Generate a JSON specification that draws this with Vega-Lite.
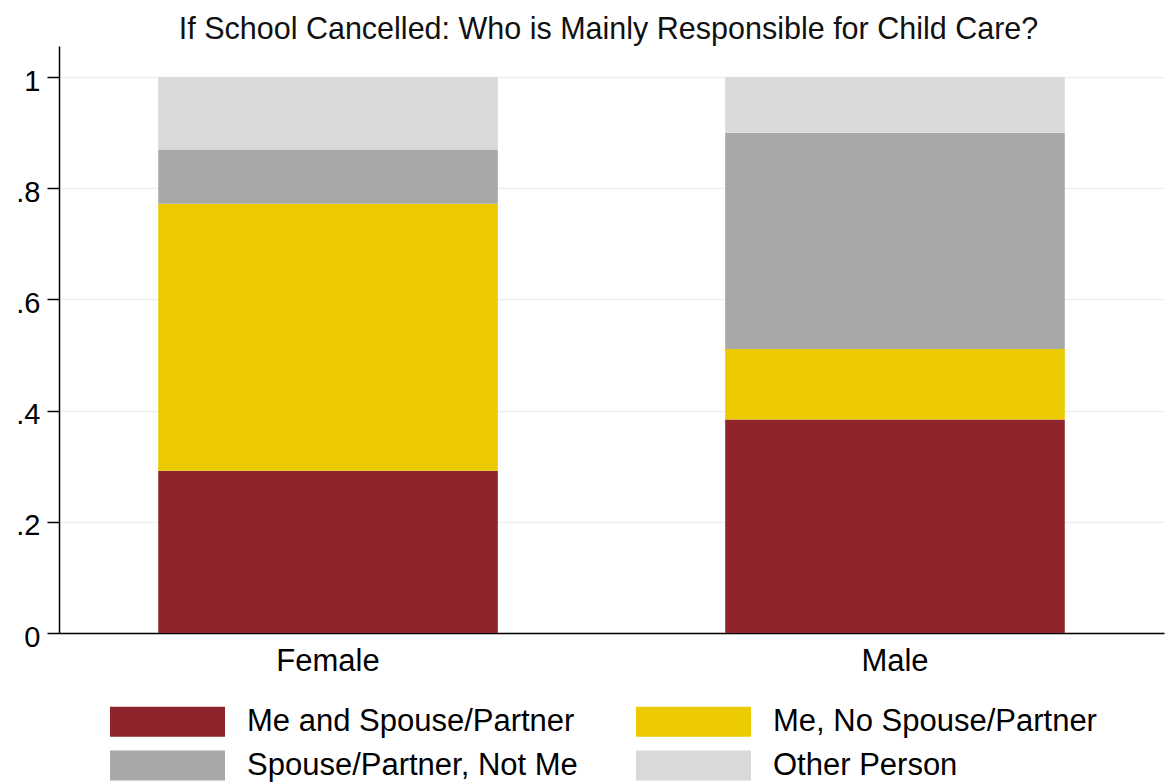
{
  "$schema": "https://vega.github.io/schema/vega-lite/v6.json",
  "width": 1105,
  "height": 587,
  "autosize": {"type": "none"},
  "padding": {"left": 59, "top": 46, "right": 2, "bottom": 151},
  "background": "white",
  "config": {"view": {"stroke": null}, "font": "Liberation Sans"},
  "title": {
    "text": "If School Cancelled: Who is Mainly Responsible for Child Care?",
    "fontSize": 30.5,
    "fontWeight": "normal",
    "font": "Liberation Sans",
    "color": "#111111",
    "anchor": "middle",
    "frame": "group",
    "baseline": "alphabetic",
    "offset": -23,
    "dx": -3
  },
  "data": {
    "values": [
      {"sex": "Female", "who": "Me and Spouse/Partner", "share": 0.292},
      {"sex": "Female", "who": "Me, No Spouse/Partner", "share": 0.480},
      {"sex": "Female", "who": "Spouse/Partner, Not Me", "share": 0.098},
      {"sex": "Female", "who": "Other Person", "share": 0.130},
      {"sex": "Male", "who": "Me and Spouse/Partner", "share": 0.384},
      {"sex": "Male", "who": "Me, No Spouse/Partner", "share": 0.127},
      {"sex": "Male", "who": "Spouse/Partner, Not Me", "share": 0.389},
      {"sex": "Male", "who": "Other Person", "share": 0.100}
    ]
  },
  "transform": [
    {"calculate": "indexof(['Me and Spouse/Partner', 'Me, No Spouse/Partner', 'Spouse/Partner, Not Me', 'Other Person'], datum.who)", "as": "stack_rank"}
  ],
  "mark": {"type": "bar", "strokeWidth": 0},
  "encoding": {
    "x": {
      "field": "sex",
      "type": "nominal",
      "sort": ["Female", "Male"],
      "scale": {"paddingInner": 0.401, "paddingOuter": 0.175},
      "axis": {
        "title": null,
        "ticks": false,
        "labelAngle": 0,
        "labelFontSize": 31,
        "labelFont": "Liberation Sans",
        "labelColor": "black",
        "labelPadding": 13,
        "domainColor": "black",
        "domainWidth": 1.5,
        "grid": false
      }
    },
    "y": {
      "field": "share",
      "type": "quantitative",
      "stack": "zero",
      "scale": {"domain": [0, 1.056], "nice": false},
      "axis": {
        "title": null,
        "values": [0, 0.2, 0.4, 0.6, 0.8, 1],
        "labelExpr": "datum.value == 0 ? '0' : datum.value == 1 ? '1' : '.' + round(datum.value * 10)",
        "tickSize": 12,
        "tickColor": "black",
        "tickWidth": 1.5,
        "domainColor": "black",
        "domainWidth": 1.5,
        "labelFontSize": 29,
        "labelFont": "Liberation Sans",
        "labelColor": "black",
        "labelPadding": 7,
        "labelOffset": 4,
        "grid": true,
        "gridColor": "#EFEFEF",
        "gridWidth": 1.5
      }
    },
    "order": {"field": "stack_rank", "type": "quantitative", "sort": "ascending"},
    "color": {
      "field": "who",
      "type": "nominal",
      "sort": ["Me and Spouse/Partner", "Me, No Spouse/Partner", "Spouse/Partner, Not Me", "Other Person"],
      "scale": {
        "domain": ["Me and Spouse/Partner", "Me, No Spouse/Partner", "Spouse/Partner, Not Me", "Other Person"],
        "range": ["#90242C", "#EBCB00", "#A8A8A8", "#D9D9D9"]
      },
      "legend": {
        "orient": "none",
        "legendX": 93,
        "legendY": 660,
        "direction": "horizontal",
        "columns": 2,
        "title": null,
        "symbolType": "M-3.833,-1L3.833,-1L3.833,1L-3.833,1Z",
        "symbolSize": 900,
        "symbolStrokeWidth": 0,
        "symbolOpacity": 1,
        "labelFontSize": 31,
        "labelFont": "Liberation Sans",
        "labelColor": "black",
        "labelOffset": 64,
        "labelLimit": 0,
        "rowPadding": 12,
        "columnPadding": 58,
        "padding": 0
      }
    }
  }
}
